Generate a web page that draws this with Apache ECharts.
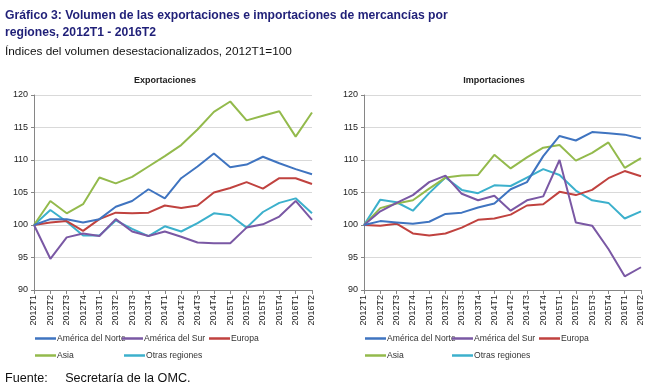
<!DOCTYPE html>
<html><head><meta charset="utf-8">
<script src="https://cdn.jsdelivr.net/npm/echarts@6/dist/echarts.min.js"></script>
<style>html,body{margin:0;padding:0;background:#fff}#c{width:650px;height:390px}</style>
</head><body><div id="c"></div>
<script>
const categories = ["2012T1","2012T2","2012T3","2012T4","2013T1","2013T2","2013T3","2013T4","2014T1","2014T2","2014T3","2014T4","2015T1","2015T2","2015T3","2015T4","2016T1","2016T2"];
const seriesNames = ["América del Norte","América del Sur","Europa","Asia","Otras regiones"];
const colors = ["#3f74c0","#7a58a4","#c0423f","#93ba4c","#3cb0cc"];
// Exportaciones
const expNorte = [100,100.9,100.9,100.4,100.9,102.8,103.7,105.5,104.1,107.2,109.0,111.0,108.9,109.3,110.5,109.5,108.6,107.8];
const expSur   = [100,94.8,98.1,98.7,98.3,100.9,99.0,98.3,99.0,98.2,97.3,97.2,97.2,99.6,100.1,101.3,103.7,100.8];
const expEuropa= [100,100.4,100.6,99.1,100.9,101.9,101.8,101.9,103.0,102.6,103.0,105.0,105.7,106.6,105.6,107.2,107.2,106.3];
const expAsia  = [100,103.7,101.8,103.2,107.3,106.4,107.4,109.0,110.6,112.3,114.7,117.4,119.0,116.1,116.8,117.5,113.6,117.3];
const expOtras = [100,102.3,100.5,98.4,98.4,100.7,99.4,98.3,99.8,99.0,100.3,101.8,101.5,99.6,102.0,103.4,104.1,101.8];
// Importaciones
const impNorte = [100,100.6,100.4,100.2,100.5,101.7,101.9,102.7,103.3,105.5,106.6,110.6,113.7,113.0,114.3,114.1,113.9,113.3];
const impSur   = [100,102.1,103.4,104.6,106.6,107.6,104.8,103.8,104.5,102.2,103.8,104.4,110.0,100.4,99.9,96.3,92.1,93.5];
const impEuropa= [100,99.9,100.2,98.7,98.4,98.7,99.6,100.8,101.0,101.6,103.0,103.2,105.1,104.6,105.4,107.2,108.3,107.5];
const impAsia  = [100,102.6,103.3,103.8,105.6,107.3,107.6,107.7,110.8,108.7,110.4,111.9,112.3,109.9,111.1,112.7,108.8,110.3];
const impOtras = [100,103.9,103.5,102.2,104.9,107.3,105.4,104.9,106.1,106.0,107.3,108.6,107.7,105.3,103.8,103.4,101.0,102.1];
const yTicks = {min:90, max:120, interval:5};

const expData = [expNorte, expSur, expEuropa, expAsia, expOtras];
const impData = [impNorte, impSur, impEuropa, impAsia, impOtras];

const chart = echarts.init(document.getElementById('c'));
const font = 'Liberation Sans';
function xAxis(gi){
  return {type:'category', gridIndex:gi, data:categories, boundaryGap:false,
    axisLine:{lineStyle:{color:'#868686',width:1}},
    axisTick:{show:true, length:4, lineStyle:{color:'#868686'}},
    axisLabel:{rotate:90, interval:0, fontSize:9, color:'#222', fontFamily:font, margin:5}};
}
function yAxis(gi){
  return {type:'value', gridIndex:gi, min:yTicks.min, max:yTicks.max, interval:yTicks.interval,
    axisLine:{show:true, lineStyle:{color:'#868686',width:1}},
    axisTick:{show:true, length:3, lineStyle:{color:'#868686'}},
    axisLabel:{fontSize:9, color:'#222', fontFamily:font, margin:6},
    splitLine:{lineStyle:{color:'#d9d9d9',width:1}}};
}
const series = [];
seriesNames.forEach((n,i)=>{
  series.push({name:n, type:'line', xAxisIndex:0, yAxisIndex:0, data:expData[i], symbol:'none',
    lineStyle:{width:2,color:colors[i]}, itemStyle:{color:colors[i]}, z:10-i});
  series.push({name:n, type:'line', xAxisIndex:1, yAxisIndex:1, data:impData[i], symbol:'none',
    lineStyle:{width:2,color:colors[i]}, itemStyle:{color:colors[i]}, z:10-i});
});
const legendPos = [
  [[35,334],[122,334],[209,334],[35,351],[124,351]],
  [[365,334],[452,334],[539,334],[365,351],[452,351]]
];
const legends = [];
legendPos.forEach(side=>{
  side.forEach((p,i)=>{
    legends.push({left:p[0], top:p[1], data:[seriesNames[i]], icon:'rect', itemWidth:21, itemHeight:2.5,
      itemGap:2, padding:0, selectedMode:false,
      textStyle:{fontSize:8.6, color:'#333', fontFamily:font, padding:[0,0,0,-4]}});
  });
});
chart.setOption({
  animation:false,
  title:[
    {text:'Gráfico 3: Volumen de las exportaciones e importaciones de mercancías por\nregiones, 2012T1 - 2016T2',
      left:5, top:7, padding:0,
      textStyle:{fontSize:12.2, fontWeight:'bold', color:'#1f1f78', fontFamily:font, lineHeight:17}},
    {text:'Índices del volumen desestacionalizados, 2012T1=100', left:5, top:46, padding:0,
      textStyle:{fontSize:11.8, fontWeight:'normal', color:'#111', fontFamily:font}},
    {text:'Exportaciones', left:165, top:76, textAlign:'center', padding:0,
      textStyle:{fontSize:9, fontWeight:'bold', color:'#222', fontFamily:font}},
    {text:'Importaciones', left:494, top:76, textAlign:'center', padding:0,
      textStyle:{fontSize:9, fontWeight:'bold', color:'#222', fontFamily:font}},
    {text:'Fuente:     Secretaría de la OMC.', left:5, top:372, padding:0,
      textStyle:{fontSize:12.6, fontWeight:'normal', color:'#111', fontFamily:font}}
  ],
  grid:[
    {left:34, right:338, top:95, bottom:100},
    {left:364, right:9, top:95, bottom:100}
  ],
  xAxis:[xAxis(0), xAxis(1)],
  yAxis:[yAxis(0), yAxis(1)],
  legend:legends,
  series:series
});
</script></body></html>
